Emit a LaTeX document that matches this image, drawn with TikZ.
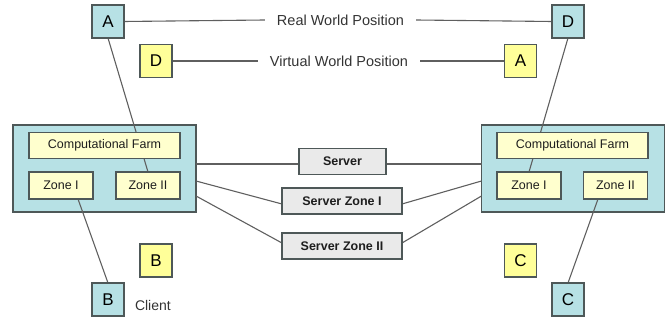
\documentclass[tikz,border=0pt]{standalone}
\usepackage{fontspec}
\setmainfont{Liberation Sans}
\pgfdeclarelayer{farmlayer}
\pgfdeclarelayer{linklayer}
\pgfsetlayers{farmlayer,linklayer,main}

\definecolor{bluefill}{RGB}{183,225,229}
\definecolor{yellowfill}{RGB}{255,255,153}
\definecolor{palefill}{RGB}{255,255,206}
\definecolor{greyfill}{RGB}{234,234,234}
\definecolor{edge}{RGB}{78,88,88}
\definecolor{wire}{RGB}{95,95,95}
\definecolor{txt}{RGB}{30,30,30}

\tikzset{
  every node/.style={inner sep=0pt, outer sep=0pt, text=txt},
  player/.style={draw=edge, line width=1.1pt, minimum width=32pt, minimum height=33pt,
                 font=\fontsize{17}{17}\selectfont, text=black},
  realbox/.style={player, fill=bluefill},
  virtbox/.style={player, fill=yellowfill},
  farmbox/.style={draw=edge, line width=1.1pt, fill=bluefill, minimum width=183pt, minimum height=87pt},
  cellbox/.style={draw=edge, line width=1.1pt, fill=palefill, minimum height=26pt,
                  font=\fontsize{12.5}{12.5}\selectfont},
  srvbox/.style={draw=edge, line width=1.1pt, fill=greyfill, minimum height=26pt,
                 font=\bfseries\fontsize{12.5}{12.5}\selectfont},
  caption/.style={font=\fontsize{14.5}{14.5}\selectfont, inner xsep=12pt, text=black!80},
  link/.style={draw=wire, line width=1.1pt},
}

\begin{document}
\begin{tikzpicture}[x=1pt, y=-1pt]
\useasboundingbox (0,0) rectangle (670,320);

% computational farms (bottom layer)
\begin{pgfonlayer}{farmlayer}
  \node[farmbox] (farmL) at (104.5,168.5) {};
  \node[farmbox] (farmR) at (573,168.5) {};
\end{pgfonlayer}

% real world (blue) and virtual world (yellow) players
\node[realbox] (rA) at (108,21.5) {A};
\node[realbox] (rD) at (568,21.5) {D};
\node[realbox] (rB) at (108,299.5) {B};
\node[realbox] (rC) at (568,299.5) {C};
\node[virtbox] (vD) at (156,61) {D};
\node[virtbox] (vA) at (520.5,61) {A};
\node[virtbox] (vB) at (156,260.5) {B};
\node[virtbox] (vC) at (520.5,260.5) {C};

% position captions
\node[caption] (real) at (340.5,20) {Real World Position};
\node[caption] (virt) at (339,61) {Virtual World Position};
\node[font=\fontsize{14}{14}\selectfont, text=black!80, anchor=west] (client) at (135,305) {Client};

% farm contents
\node[cellbox, minimum width=151pt] (cfL) at (104.5,145.5) {Computational Farm};
\node[cellbox, minimum width=64pt, minimum height=27pt] (z1L) at (61,185.5) {Zone I};
\node[cellbox, minimum width=64pt, minimum height=27pt] (z2L) at (148,185.5) {Zone II};
\node[cellbox, minimum width=151pt] (cfR) at (572.5,145.5) {Computational Farm};
\node[cellbox, minimum width=64pt, minimum height=27pt] (z1R) at (529,185.5) {Zone I};
\node[cellbox, minimum width=64pt, minimum height=27pt] (z2R) at (615.5,185.5) {Zone II};

% servers
\node[srvbox, minimum width=87pt] (srv) at (342.5,161.5) {Server};
\node[srvbox, minimum width=120pt] (sz1) at (342,201) {Server Zone I};
\node[srvbox, minimum width=120pt] (sz2) at (342,246) {Server Zone II};

% ports on the farm edges
\coordinate (pL0) at ([yshift=4.5pt]farmL.east);
\coordinate (pR0) at ([yshift=4.5pt]farmR.west);
\coordinate (pL1) at ([yshift=-12.5pt]farmL.east);
\coordinate (pR1) at ([yshift=-12.5pt]farmR.west);
\coordinate (pL2) at ([yshift=-27.5pt]farmL.east);
\coordinate (pR2) at ([yshift=-27.5pt]farmR.west);

% connectors
\begin{pgfonlayer}{linklayer}
  \draw[link] (rA.east) -- (real.west);
  \draw[link] (real.east) -- (rD.west);
  \draw[link] (vD.east) -- (virt.west);
  \draw[link] (virt.east) -- (vA.west);
  \draw[link] (rA.south) -- (z2L.north);
  \draw[link] (rD.south) -- (z1R.north);
  \draw[link] ([xshift=17pt]z1L.south) -- (rB.north);
  \draw[link] ([xshift=-17.5pt]z2R.south) -- (rC.north);
  \draw[link] (pL0) -- (pL0 -| srv.west);
  \draw[link] (pR0) -- (pR0 -| srv.east);
  \draw[link] (pL1) -- ([yshift=-3pt]sz1.west);
  \draw[link] (pR1) -- ([yshift=-3pt]sz1.east);
  \draw[link] (pL2) -- ([yshift=3pt]sz2.west);
  \draw[link] (pR2) -- ([yshift=3pt]sz2.east);
\end{pgfonlayer}
\end{tikzpicture}
\end{document}
